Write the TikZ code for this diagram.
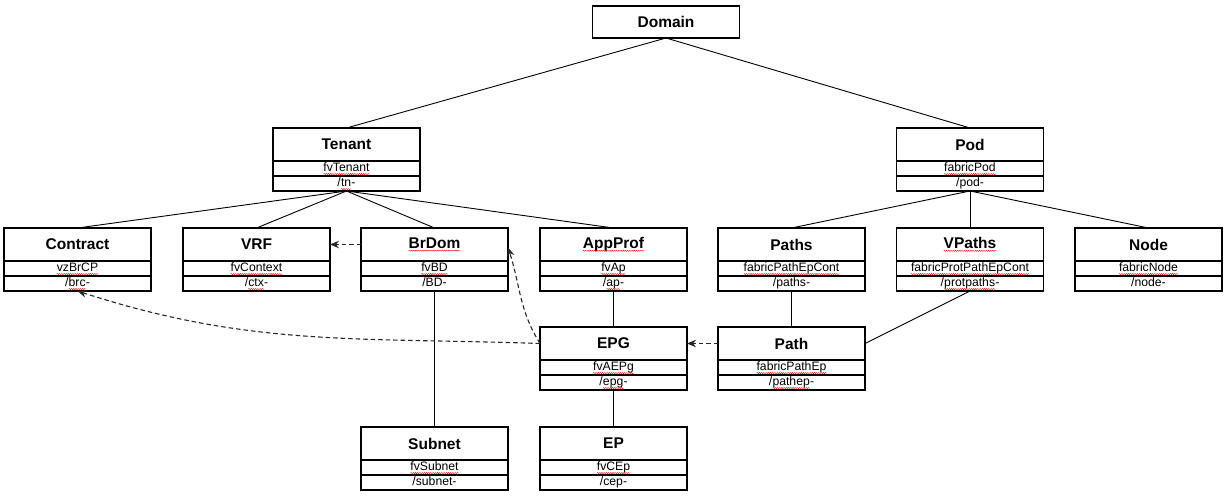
\documentclass[tikz,border=0pt]{standalone}
\usepackage{fontspec}
\setmainfont{Liberation Sans}
\usepackage{xcolor}
\usetikzlibrary{arrows.meta, positioning, decorations.pathmorphing}

% red spell-check wave under a word
\newcommand\spell[1]{\tikz[baseline=(w.base)]{%
    \node[draw=none, inner sep=0, outer sep=0, minimum width=0pt, minimum height=0pt,
          text height=, text depth=] (w) {#1};
    \draw[red, line width=0.4pt, decorate,
          decoration={snake, segment length=2.2pt, amplitude=0.55pt}]
      ([yshift=-2.3pt]w.base west) -- ([yshift=-2.3pt]w.base east);}}

\begin{document}
\begin{tikzpicture}[
      x=1pt, y=-1pt,
      ttl/.style={draw, line width=1.2pt, minimum width=147pt, minimum height=33pt,
                  inner sep=0, outer sep=0, font=\fontsize{15.5}{18}\selectfont\bfseries},
      fld/.style={draw, line width=1.2pt, minimum width=147pt, minimum height=15pt,
                  inner sep=0, outer sep=0, text height=9pt, text depth=2.5pt,
                  font=\fontsize{12.2}{14}\selectfont},
      link/.style={line width=0.9pt},
      dep/.style={line width=1.1pt, black!85, dash pattern=on 4.5pt off 3pt,
                  -{Stealth[length=9pt, width=7.5pt]}},
    ]
    \useasboundingbox (0,0) rectangle (1231,497);

    % ---- root ----
    \node[ttl, minimum height=32pt] (dom) at (666,22) {Domain};

    % ---- class boxes: title, class name, rn prefix ----
    \foreach \nm/\cx/\cy/\ttl/\fld/\pth in {
        ten/346.5/144.5/Tenant/{\spell{fvTenant}}/{/\spell{tn}-},
        pod/970/144.5/Pod/{\spell{fabricPod}}/{/pod-},
        con/77.5/244.5/Contract/{\spell{vzBrCP}}/{/\spell{brc}-},
        vrf/256.5/244.5/VRF/{\spell{fvContext}}/{/\spell{ctx}-},
        bd/434.5/244.5/{\spell{BrDom}}/{\spell{fvBD}}/{/BD-},
        ap/613.5/244.5/{\spell{AppProf}}/{\spell{fvAp}}/{/\spell{ap}-},
        paths/791.5/244.5/Paths/{\spell{fabricPathEpCont}}/{/paths-},
        vpaths/970/244.5/{\spell{VPaths}}/{\spell{fabricProtPathEpCont}}/{/\spell{protpaths}-},
        fnode/1148.5/244.5/Node/{\spell{fabricNode}}/{/node-},
        epg/613.5/343.5/EPG/{\spell{fvAEPg}}/{/\spell{epg}-},
        path/791.5/343.5/Path/{\spell{fabricPathEp}}/{/\spell{pathep}-},
        sub/434.5/443.5/Subnet/{\spell{fvSubnet}}/{/subnet-},
        ep/613.5/443.5/EP/{\spell{fvCEp}}/{/cep-}} {
      \node[ttl] (\nm) at (\cx,\cy) {\ttl};
      \node[fld, below=0pt of \nm] (\nm-f) {\fld};
      \node[fld, below=0pt of \nm-f] (\nm-p) {\pth};
    }

    % containment
    \draw[link] (dom.south) -- (ten.north);
    \draw[link] (dom.south) -- (pod.north);
    \foreach \c in {con, vrf, bd, ap} {
      \draw[link] (ten-p.south) -- (\c.north);
    }
    \foreach \c in {paths, vpaths, fnode} {
      \draw[link] (pod-p.south) -- (\c.north);
    }
    \draw[link] (bd-p.south) -- (sub.north);
    \draw[link] (ap-p.south) -- (epg.north);
    \draw[link] (epg-p.south) -- (ep.north);
    \draw[link] (paths-p.south) -- (path.north);
    \draw[link] (vpaths-p.south) -- (path.east);

    % relations
    \draw[dep] (bd.west) -- (vrf.east);
    \draw[dep] (path.west) -- (epg.east);
    \draw[dep] (epg.west) to[out=178, in=-18] (con-p.south);
    \draw[dep] (epg.west) to[out=122, in=-72] ([yshift=-3pt]bd.east);

  \end{tikzpicture}
\end{document}
